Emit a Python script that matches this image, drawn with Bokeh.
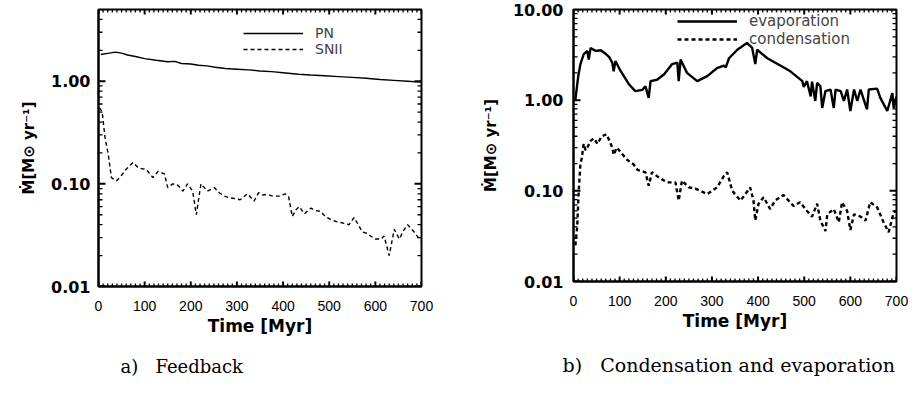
import math
import numpy as np
from bokeh.plotting import figure
from bokeh.layouts import row
from bokeh.models import (FixedTicker, SingleIntervalTicker, PrintfTickFormatter,
                          Legend, LegendItem, Range1d, Title)
from bokeh.embed import file_html
from bokeh.resources import INLINE

# ---------------- data ----------------
pn_t = [5, 20, 37, 50, 63, 80, 100, 125, 150, 165, 180, 200, 217, 235, 253, 275, 300,
        325, 350, 375, 400, 433, 460, 490, 520, 550, 580, 610, 640, 670, 700]
pn_v = [1.82, 1.87, 1.92, 1.88, 1.80, 1.74, 1.66, 1.60, 1.55, 1.56, 1.49, 1.47, 1.43,
        1.41, 1.37, 1.33, 1.31, 1.29, 1.26, 1.24, 1.21, 1.17, 1.15, 1.13, 1.11, 1.09,
        1.07, 1.04, 1.02, 1.00, 0.98]

snii = [(2, 0.55), (8, 0.50), (14, 0.285), (21, 0.195), (28, 0.115), (39, 0.107),
        (46, 0.115), (60, 0.139), (75, 0.162), (85, 0.145), (95, 0.14), (103, 0.139),
        (118, 0.115), (129, 0.132), (143, 0.125), (150, 0.092), (161, 0.10), (172, 0.097),
        (183, 0.085), (193, 0.10), (204, 0.085), (212, 0.050), (222, 0.10), (236, 0.085),
        (251, 0.092), (262, 0.082), (272, 0.076), (285, 0.073), (294, 0.072), (307, 0.07),
        (323, 0.08), (337, 0.068), (347, 0.082), (356, 0.078), (366, 0.079), (378, 0.076),
        (391, 0.076), (405, 0.08), (412, 0.075), (420, 0.048), (428, 0.056), (435, 0.06),
        (446, 0.051), (460, 0.058), (470, 0.055), (481, 0.054), (492, 0.048), (503, 0.045),
        (515, 0.043), (525, 0.042), (535, 0.041), (543, 0.040), (554, 0.047), (563, 0.040),
        (572, 0.034), (581, 0.033), (590, 0.031), (600, 0.029), (612, 0.029), (619, 0.031),
        (630, 0.020), (641, 0.036), (652, 0.029), (661, 0.035), (670, 0.040), (684, 0.034),
        (695, 0.029), (700, 0.028)]

evaporation = [(4, 1.0), (10, 1.8), (15, 2.5), (22, 3.2), (30, 3.5), (33, 2.8), (37, 3.76),
               (48, 3.5), (59, 3.55), (68, 3.3), (77, 3.0), (84, 2.6), (87, 2.08), (91, 2.7),
               (102, 2.1), (120, 1.5), (134, 1.26), (149, 1.3), (156, 1.42), (163, 1.06),
               (167, 1.62), (181, 1.68), (196, 1.92), (214, 2.5), (225, 2.6), (228, 1.62),
               (232, 2.8), (246, 2.0), (268, 1.62), (290, 1.84), (311, 2.26), (326, 2.4),
               (330, 2.3), (337, 2.9), (355, 3.6), (376, 4.27), (387, 3.8), (394, 2.5),
               (398, 3.6), (420, 2.9), (449, 2.4), (470, 2.08), (496, 1.62), (499, 1.4),
               (506, 1.62), (514, 1.1), (517, 1.6), (524, 0.98), (528, 1.55), (535, 1.43),
               (539, 0.82), (546, 1.26), (557, 1.31), (564, 0.82), (568, 1.31), (579, 1.26),
               (586, 0.98), (593, 1.31), (600, 0.76), (608, 1.31), (615, 0.98), (622, 1.31),
               (636, 0.79), (640, 1.31), (658, 1.34), (665, 1.06), (680, 0.76), (691, 1.2),
               (694, 0.82), (700, 1.1)]

condensation = [(4, 0.025), (8, 0.04), (11, 0.092), (15, 0.2), (18, 0.23), (22, 0.33),
                (26, 0.28), (30, 0.3), (37, 0.355), (44, 0.38), (52, 0.33), (61, 0.40),
                (72, 0.42), (84, 0.30), (87, 0.25), (94, 0.30), (116, 0.22), (130, 0.196),
                (139, 0.17), (156, 0.16), (163, 0.114), (170, 0.16), (185, 0.14), (203, 0.124),
                (221, 0.124), (228, 0.078), (235, 0.13), (250, 0.109), (264, 0.106),
                (290, 0.092), (311, 0.109), (326, 0.146), (333, 0.16), (344, 0.10),
                (362, 0.078), (383, 0.109), (390, 0.078), (394, 0.047), (401, 0.072),
                (412, 0.085), (426, 0.063), (437, 0.078), (455, 0.09), (477, 0.068),
                (491, 0.075), (506, 0.060), (517, 0.052), (528, 0.072), (535, 0.047),
                (546, 0.036), (550, 0.055), (564, 0.063), (575, 0.045), (582, 0.075),
                (593, 0.06), (600, 0.037), (608, 0.055), (622, 0.052), (633, 0.047),
                (643, 0.075), (658, 0.066), (672, 0.045), (683, 0.035), (694, 0.058),
                (700, 0.06)]

y_major = [0.01, 0.1, 1.0, 10.0]
y_minor = [m * d for d in (0.01, 0.1, 1.0) for m in range(2, 10)]
x_major = list(range(0, 701, 100))
x_minor = [v for v in range(0, 701, 10) if v % 100]
x_range = (0, 700)
ylabel = "Ṁ[M⊙ yr⁻¹]"
xlabel = "Time [Myr]"
captions = ["a)\u00a0\u00a0\u00a0Feedback", "b)\u00a0\u00a0\u00a0Condensation and evaporation"]

SANS = "DejaVu Sans"
FRAME_W = 323


def tick_path(pairs):
    """Join (x0, y0, x1, y1) pieces into one NaN-broken path."""
    xs, ys = [], []
    for x0, y0, x1, y1 in pairs:
        xs += [x0, x1, np.nan]
        ys += [y0, y1, np.nan]
    return np.array(xs, dtype=float), np.array(ys, dtype=float)


def add_ticks(p, ymin, ymax, frame_h):
    """Inward IDL-style ticks on all four sides."""
    dec_per_px = (math.log10(ymax) - math.log10(ymin)) / frame_h
    x_per_px = (x_range[1] - x_range[0]) / FRAME_W
    for (xt, yt, Lx, Ly, w) in ((x_major, y_major, 5, 7, 2.0), (x_minor, y_minor, 3, 4, 1.3)):
        pieces = []
        f = 10 ** (Lx * dec_per_px)
        for x in xt:
            pieces.append((x, ymin, x, ymin * f))
            pieces.append((x, ymax, x, ymax / f))
        dx = Ly * x_per_px
        for y in yt:
            if ymin <= y <= ymax:
                pieces.append((x_range[0], y, x_range[0] + dx, y))
                pieces.append((x_range[1], y, x_range[1] - dx, y))
        xs, ys = tick_path(pieces)
        p.line(xs, ys, line_color="black", line_width=w)


def make_panel(ymax, left_border, right_border, top_border, frame_h, ylab_standoff):
    p = figure(output_backend="svg", toolbar_location=None, y_axis_type="log",
               frame_width=FRAME_W, frame_height=frame_h,
               x_range=Range1d(*x_range), y_range=Range1d(0.01, ymax),
               min_border_left=left_border, min_border_right=right_border,
               min_border_top=top_border, min_border_bottom=10)
    p.grid.visible = False
    p.outline_line_color = "black"
    p.outline_line_width = 2
    p.background_fill_color = "white"
    p.border_fill_color = "white"

    xa = p.xaxis[0]
    xa.ticker = SingleIntervalTicker(interval=100, num_minor_ticks=10)
    xa.major_tick_in = 0
    xa.major_tick_out = 0
    xa.minor_tick_in = 0
    xa.minor_tick_out = 0
    xa.axis_line_width = 2
    xa.major_label_standoff = 14
    xa.major_label_text_font = "Liberation Sans"
    xa.major_label_text_font_size = "14px"
    xa.major_label_text_color = "black"
    xa.axis_label = xlabel
    xa.axis_label_text_font = SANS
    xa.axis_label_text_font_style = "bold"
    xa.axis_label_text_font_size = "17px"
    xa.axis_label_text_color = "black"
    xa.axis_label_standoff = 2

    ya = p.yaxis[0]
    ya.ticker = FixedTicker(ticks=y_major, minor_ticks=y_minor)
    ya.formatter = PrintfTickFormatter(format="%.2f")
    ya.major_tick_in = 0
    ya.major_tick_out = 0
    ya.minor_tick_in = 0
    ya.minor_tick_out = 0
    ya.axis_line_width = 2
    ya.major_label_standoff = ylab_standoff
    ya.major_label_text_font = SANS
    ya.major_label_text_font_style = "bold"
    ya.major_label_text_font_size = "16px"
    ya.major_label_text_color = "black"
    ya.axis_label = ylabel
    ya.axis_label_text_font = SANS
    ya.axis_label_text_font_style = "bold"
    ya.axis_label_text_font_size = "15px"
    ya.axis_label_text_color = "black"
    ya.axis_label_standoff = 10

    add_ticks(p, 0.01, ymax, frame_h)
    return p


def split(pairs):
    return [a for a, _ in pairs], [b for _, b in pairs]


def caption(text, offset, size, standoff):
    t = Title(text=text, align="left", offset=offset, text_font="DejaVu Serif",
              text_font_style="normal", text_font_size=size, text_color="black")
    try:
        t.standoff = standoff
    except AttributeError:
        pass
    return t


# ---------- panel a ----------
p1 = make_panel(5.0, 98, 42, 5, 277, 8)
r_pn = p1.line(pn_t, pn_v, line_color="black", line_width=1.4)
st, sv = split(snii)
r_sn = p1.line(st, sv, line_color="black", line_width=1.4, line_dash="4 3")
leg1 = Legend(items=[LegendItem(label="PN", renderers=[r_pn]),
                     LegendItem(label="SNII", renderers=[r_sn])],
              location="top_right", glyph_width=60, glyph_height=16, label_height=16,
              label_width=90, label_standoff=12, spacing=0, padding=0, margin=16,
              label_text_font=SANS, label_text_font_size="14px",
              border_line_alpha=0, background_fill_alpha=0)
p1.add_layout(leg1)
p1.add_layout(caption(captions[0], 22, "18px", 31), "below")

# ---------- panel b ----------
p2 = make_panel(10.0, 110, 16, 9, 272, 10)
et, ev = split(evaporation)
r_ev = p2.line(et, ev, line_color="black", line_width=2.4)
ct, cv = split(condensation)
r_co = p2.line(ct, cv, line_color="black", line_width=2.4, line_dash="4 3")
leg2 = Legend(items=[LegendItem(label="evaporation", renderers=[r_ev]),
                     LegendItem(label="condensation", renderers=[r_co])],
              location="top_right", glyph_width=60, glyph_height=16, label_height=16,
              label_width=144, label_standoff=12, spacing=0, padding=0, margin=3,
              label_text_font=SANS, label_text_font_size="15px",
              border_line_alpha=0, background_fill_alpha=0)
p2.add_layout(leg2)
p2.add_layout(caption(captions[1], -11, "19px", 36), "below")

layout = row(p1, p2, spacing=0)
open("out.html", "w").write(file_html(layout, INLINE))
